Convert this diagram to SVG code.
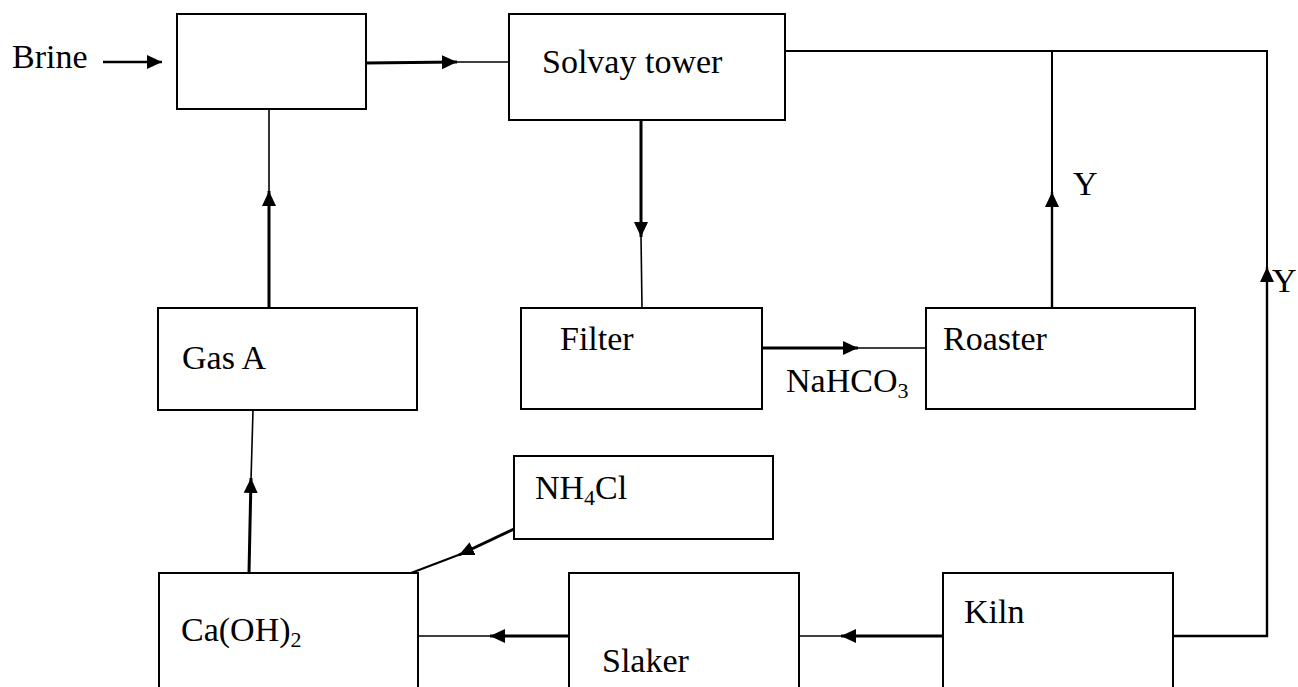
<svg xmlns="http://www.w3.org/2000/svg" width="1298" height="687" viewBox="0 0 1298 687">
<style>
.box{fill:#fff;stroke:#000;stroke-width:2}
.t{font-family:"Liberation Serif","Times New Roman",serif;font-size:34px;fill:#000}
.thin{stroke:#000;stroke-width:1.6;fill:none}
.thick{stroke:#000;stroke-width:3;fill:none}
.sub{font-size:22px}
</style>
<defs>
<marker id="ah" markerUnits="userSpaceOnUse" markerWidth="16" markerHeight="16" viewBox="0 0 16 16" refX="15" refY="8" orient="auto">
<path d="M0,1 L15,8 L0,15 z" fill="#000"/>
</marker>
</defs>
<rect width="1298" height="687" fill="#fff"/>
<g id="connectors">
<line class="thick" x1="103" y1="62" x2="162" y2="62" marker-end="url(#ah)" style="stroke-width:2.6"/>
<line class="thick" x1="366" y1="63" x2="457" y2="62" marker-end="url(#ah)"/>
<line class="thin" x1="455" y1="62" x2="509" y2="62"/>
<line class="thin" x1="269" y1="99" x2="269" y2="193"/>
<line class="thick" x1="269" y1="308" x2="269" y2="191" marker-end="url(#ah)"/>
<line class="thick" x1="641" y1="120" x2="641" y2="237" marker-end="url(#ah)"/>
<line class="thin" x1="641" y1="235" x2="642" y2="308"/>
<line class="thick" x1="762" y1="348" x2="858" y2="348" marker-end="url(#ah)"/>
<line class="thin" x1="856" y1="348" x2="926" y2="348"/>
<line class="thick" x1="1052" y1="308" x2="1052" y2="192" marker-end="url(#ah)" style="stroke-width:2.4"/>
<line class="thin" x1="1052" y1="194" x2="1052" y2="51" style="stroke-width:2"/>
<polyline class="thin" points="785,51 1267,51 1267,269" style="stroke-width:2"/>
<polyline class="thick" points="1173,636 1267,636 1267,267" marker-end="url(#ah)" style="stroke-width:2.4"/>
<line class="thin" x1="253" y1="410" x2="251" y2="480"/>
<line class="thick" x1="249" y1="573" x2="251" y2="478" marker-end="url(#ah)"/>
<line class="thick" x1="514" y1="529" x2="459" y2="555" marker-end="url(#ah)"/>
<line class="thin" x1="461" y1="554" x2="411" y2="573" style="stroke-width:2"/>
<line class="thick" x1="569" y1="636" x2="490" y2="636" marker-end="url(#ah)"/>
<line class="thin" x1="492" y1="636" x2="418" y2="636"/>
<line class="thick" x1="943" y1="636" x2="841" y2="636" marker-end="url(#ah)"/>
<line class="thin" x1="843" y1="636" x2="799" y2="636"/>
</g>
<g id="brine"><text class="t" x="12" y="68">Brine</text></g>
<g id="mixer"><rect class="box" x="177" y="14" width="189" height="95"/></g>
<g id="solvay"><rect class="box" x="509" y="14" width="276" height="106"/><text class="t" x="542" y="73">Solvay tower</text></g>
<g id="filter"><rect class="box" x="521" y="308" width="241" height="101"/><text class="t" x="560" y="350">Filter</text></g>
<g id="roaster"><rect class="box" x="926" y="308" width="269" height="101"/><text class="t" x="943" y="350">Roaster</text></g>
<g id="nahco3"><text class="t" x="786" y="392">NaHCO<tspan class="sub" dy="6">3</tspan></text></g>
<g id="y1"><text class="t" x="1073" y="195">Y</text></g>
<g id="y2"><text class="t" x="1272" y="292">Y</text></g>
<g id="gasA"><rect class="box" x="158" y="308" width="259" height="102"/><text class="t" x="182" y="369">Gas A</text></g>
<g id="nh4cl"><rect class="box" x="514" y="456" width="259" height="83"/><text class="t" x="535" y="499">NH<tspan class="sub" dy="6">4</tspan><tspan dy="-6">Cl</tspan></text></g>
<g id="caoh2"><rect class="box" x="159" y="573" width="259" height="130"/><text class="t" x="181" y="641">Ca(OH)<tspan class="sub" dy="6">2</tspan></text></g>
<g id="slaker"><rect class="box" x="569" y="573" width="230" height="130"/><text class="t" x="602" y="672">Slaker</text></g>
<g id="kiln"><rect class="box" x="943" y="573" width="230" height="130"/><text class="t" x="964" y="623">Kiln</text></g>
</svg>
